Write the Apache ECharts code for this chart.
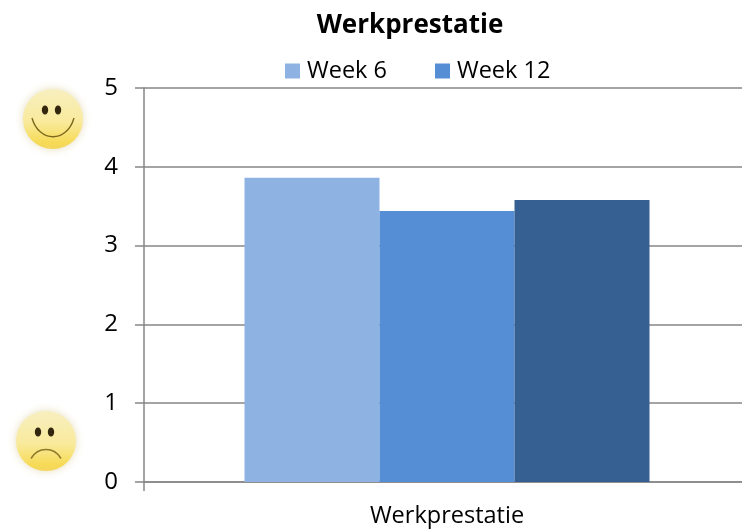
<!DOCTYPE html>
<html>
<head>
<meta charset="utf-8">
<style>html,body{margin:0;padding:0;background:#fff}#c{width:742px;height:529px}</style>
<script src="https://cdn.jsdelivr.net/npm/echarts@6/dist/echarts.min.js"></script>
</head>
<body>
<div id="c"></div>
<script>
const categories = ['Werkprestatie'];
const week6 = [3.86];
const week12 = [3.44];
const extra = [3.58];
const yTicks = [0, 1, 2, 3, 4, 5];
const FONT = '"Open Sans", Lato, sans-serif';

function face(cx, cy, happy) {
  const r = 30;
  const skin = new echarts.graphic.LinearGradient(0, 0, 0, 1, [
    {offset: 0, color: '#f7efc0'},
    {offset: 0.55, color: '#f9ea9c'},
    {offset: 0.9, color: '#f6da55'},
    {offset: 1, color: '#f3d65e'}
  ]);
  const ink = '#33260f';
  const children = [
    {type: 'circle', shape: {cx: 0, cy: 0, r: r},
      style: {fill: skin, shadowBlur: 9, shadowColor: 'rgba(200,180,100,0.45)'}},
    {type: 'ellipse', shape: {cx: -8, cy: -9, rx: 3.2, ry: 4.6}, style: {fill: ink}},
    {type: 'ellipse', shape: {cx: 5, cy: -9, rx: 3.2, ry: 4.6}, style: {fill: ink}},
    happy
      ? {type: 'bezierCurve', shape: {x1: -21, y1: -1, cpx1: -14, cpy1: 24, cpx2: 14, cpy2: 24, x2: 21, y2: -1},
          style: {fill: null, stroke: '#7d6a1e', lineWidth: 1.4}}
      : {type: 'bezierCurve', shape: {x1: -15, y1: 17.5, cpx1: -8, cpy1: 5.5, cpx2: 8, cpy2: 5.5, x2: 15, y2: 17.5},
          style: {fill: null, stroke: '#8d7a2c', lineWidth: 1.5}}
  ];
  return {type: 'group', x: cx, y: cy, silent: true, children: children};
}

const chart = echarts.init(document.getElementById('c'), null, {renderer: 'canvas'});
const barCommon = {type: 'bar', barWidth: 135, barGap: 0};
chart.setOption({
  animation: false,
  backgroundColor: '#ffffff',
  color: ['#8eb3e2', '#558ed5', '#376092'],
  title: {
    text: 'Werkprestatie', left: 405, top: 8, textAlign: 'center',
    textStyle: {fontFamily: FONT, fontSize: 26, fontWeight: 'bold', color: '#000'}
  },
  legend: {
    data: ['Week 6', 'Week 12'], left: 285, top: 59, itemWidth: 15, itemHeight: 15,
    itemGap: 48, padding: 0, icon: 'rect',
    textStyle: {fontFamily: FONT, fontSize: 23.5, color: '#000', padding: [0, 0, 0, 2]}
  },
  grid: {left: 144, width: 606, top: 88, bottom: 47, containLabel: false, outerBoundsMode: 'none'},
  xAxis: {
    type: 'category', data: categories,
    axisLine: {lineStyle: {color: '#868686', width: 1.5}},
    axisTick: {show: true, length: 9, alignWithLabel: false, lineStyle: {color: '#868686', width: 1.5}},
    axisLabel: {fontFamily: FONT, fontSize: 23.5, color: '#000', margin: 22}
  },
  yAxis: {
    type: 'value', min: yTicks[0], max: yTicks[yTicks.length - 1], interval: 1,
    axisLine: {show: true, lineStyle: {color: '#868686', width: 1.5}},
    axisTick: {show: true, length: 9, lineStyle: {color: '#868686', width: 1.5}},
    splitLine: {show: true, lineStyle: {color: '#868686', width: 1.5}},
    axisLabel: {fontFamily: FONT, fontSize: 24, color: '#000', margin: 26}
  },
  series: [
    Object.assign({}, barCommon, {name: 'Week 6', data: week6}),
    Object.assign({}, barCommon, {name: 'Week 12', data: week12}),
    Object.assign({}, barCommon, {name: 'Extra', data: extra})
  ],
  graphic: [face(53, 119, true), face(46, 441, false)]
});
</script>
</body>
</html>
